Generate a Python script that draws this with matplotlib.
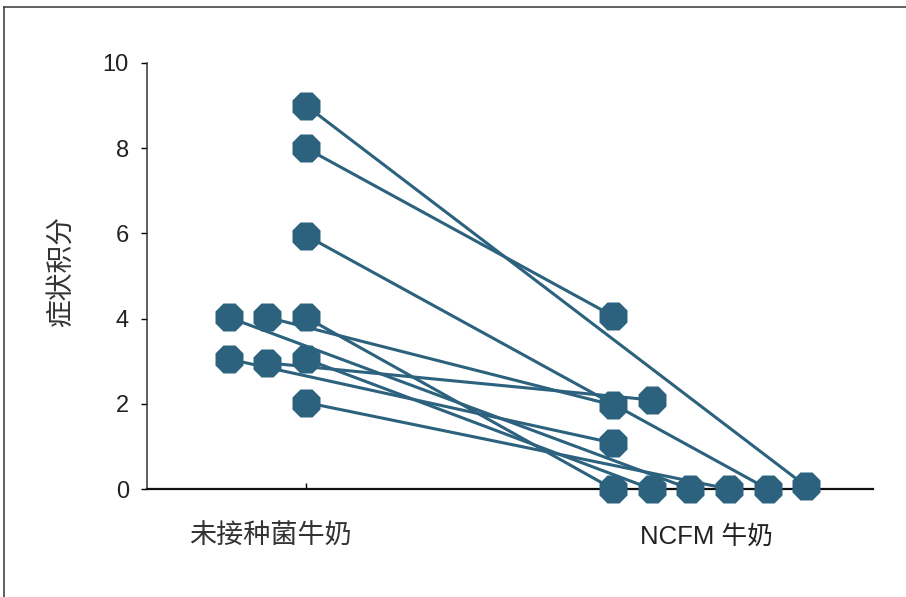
import matplotlib
matplotlib.use("Agg")
import matplotlib.pyplot as plt
from matplotlib.lines import Line2D

plt.rcParams['font.family'] = ['Liberation Sans', 'Noto Sans CJK SC', 'DejaVu Sans']

groups = ['未接种菌牛奶', 'NCFM 牛奶']
ylabel = '症状积分'

# symptom scores per subject, before and after
before = [9.0, 8.0, 5.95, 4.03, 4.03, 4.03, 3.05, 2.96, 3.05, 2.03]
after = [0.06, 4.06, 0.0, 0.0, 1.97, 0.0, 1.08, 2.09, 0.0, 0.0]

# horizontal spread so overlapping points stay visible
before_shift = [0, 0, 0, -2, -1, 0, -2, -1, 0, 0]
after_shift = [5, 0, 4, 2, 0, 0, 0, 1, 1, 3]
step = 0.126

color = '#2c627e'

fig = plt.figure(figsize=(9.06, 5.97), dpi=100)
ax = fig.add_axes([0.1623, 0.1809, 0.8013, 0.7136])

for b, a, sb, sa in zip(before, after, before_shift, after_shift):
    xb = 1 + sb * step
    xa = 2 + sa * step
    ax.plot([xb, xa], [b, a], color=color, lw=2.2, zorder=2, clip_on=False)
    ax.plot([xb, xa], [b, a], ls='none', marker='8', ms=22.5, color=color,
            mec='none', zorder=3, clip_on=False)

ax.set_xlim(0.482, 2.847)
ax.set_ylim(0, 10)
ax.set_yticks(range(0, 11, 2))
ax.tick_params(axis='y', length=4, width=1, pad=9, labelsize=17, labelcolor='#222222')
ax.set_xticks([1])
ax.set_xticklabels([''])
ax.tick_params(axis='x', direction='in', length=4.5, width=1)

for s in ['top', 'right']:
    ax.spines[s].set_visible(False)
ax.spines['left'].set_linewidth(1.1)
ax.spines['left'].set_color('#333333')
ax.spines['bottom'].set_linewidth(1.6)
ax.spines['bottom'].set_color('#111111')

trans = ax.get_xaxis_transform()
ax.text(0.883, -0.113, groups[0], transform=trans, ha='center', va='center',
        fontsize=19.5, color='#333333')
ax.text(2.303, -0.113, groups[1], transform=trans, ha='center', va='center',
        fontsize=18.5, color='#222222')

fig.text(0.068, 0.545, ylabel, rotation=90, ha='center', va='center',
         fontsize=20, color='#333333')

# outer frame (top and left edges)
fig.add_artist(Line2D([4 / 906, 1], [1 - 7 / 597, 1 - 7 / 597],
                      transform=fig.transFigure, color='#444444', lw=1.2))
fig.add_artist(Line2D([4 / 906, 4 / 906], [0, 1 - 7 / 597],
                      transform=fig.transFigure, color='#444444', lw=1.2))

fig.savefig('out.png', dpi=100)
